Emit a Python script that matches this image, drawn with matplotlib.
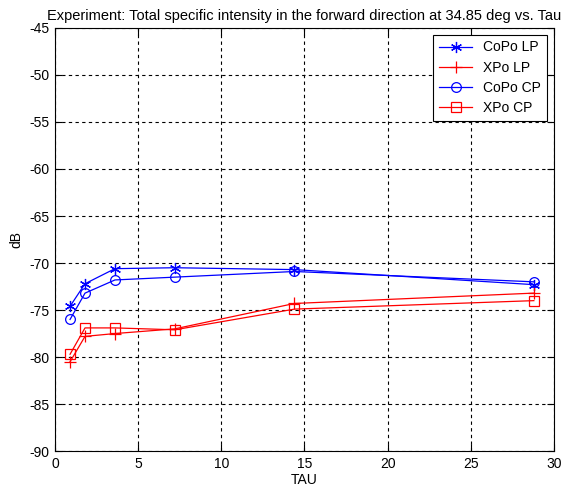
import numpy as np
import matplotlib.pyplot as plt

plt.rcParams['font.family'] = ['Liberation Sans', 'DejaVu Sans']
plt.rcParams['axes.unicode_minus'] = False

# data
tau = [0.9, 1.8, 3.6, 7.2, 14.4, 28.8]
copo_lp = [-74.6, -72.2, -70.6, -70.5, -70.7, -72.3]
xpo_lp = [-80.5, -77.8, -77.5, -77.0, -74.3, -73.2]
copo_cp = [-76.0, -73.2, -71.8, -71.5, -70.9, -72.0]
xpo_cp = [-79.7, -76.9, -76.9, -77.1, -74.9, -74.0]

fig = plt.figure(figsize=(5.68, 4.99), dpi=100)
ax = fig.add_axes([0.097, 0.096, 0.878, 0.848])

ax.plot(tau, copo_lp, 'b-', marker=(6, 2, 0), lw=0.9, ms=8, mew=0.9, label='CoPo LP')
ax.plot(tau, xpo_lp, 'r-+', lw=0.9, ms=9, mew=0.9, label='XPo LP')
ax.plot(tau, copo_cp, 'b-o', lw=0.9, ms=7, mew=0.9, mfc='none', label='CoPo CP')
ax.plot(tau, xpo_cp, 'r-s', lw=0.9, ms=7, mew=0.9, mfc='none', label='XPo CP')

ax.set_xlim(0, 30)
ax.set_ylim(-90, -45)
ax.set_xticks(np.arange(0, 31, 5))
ax.set_yticks(np.arange(-90, -44, 5))
ax.grid(True, color='black', linestyle=(0, (3, 3)), linewidth=0.8)
ax.tick_params(direction='in', top=True, right=True, labelsize=10, length=5, pad=4)
for s in ax.spines.values():
    s.set_linewidth(0.8)

ax.set_title('Experiment: Total specific intensity in the forward direction at 34.85 deg vs. Tau',
             fontsize=10.5, pad=6)
ax.set_xlabel('TAU', fontsize=10, labelpad=2)
ax.set_ylabel('dB', fontsize=10, labelpad=4)

leg = ax.legend(loc='upper right', fontsize=10, fancybox=False, framealpha=1,
                edgecolor='black', borderaxespad=0.5, handlelength=2.4,
                labelspacing=0.45, borderpad=0.4, handletextpad=0.8)
leg.get_frame().set_linewidth(0.8)

fig.savefig('out.png', dpi=100)
